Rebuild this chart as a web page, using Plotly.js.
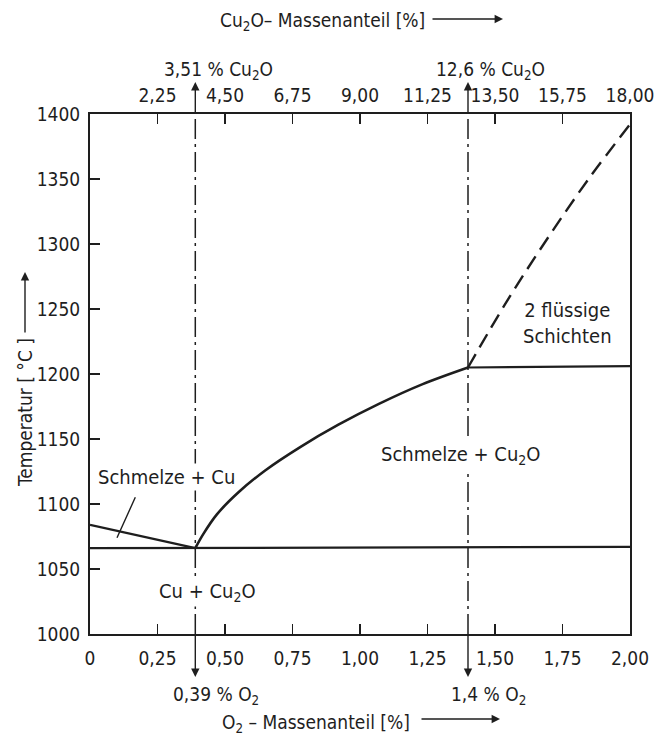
<!DOCTYPE html>
<html>
<head>
<meta charset="utf-8">
<script src="https://cdn.plot.ly/plotly-3.0.1.min.js"></script>
<style>
  html, body { margin: 0; padding: 0; background: #ffffff; }
  #chart { width: 654px; height: 738px; }
  text { font-stretch: condensed !important; }
</style>
</head>
<body>
<div id="chart"></div>
<script>
// ---- Data ----
const o2Ticks = [0, 0.25, 0.5, 0.75, 1.0, 1.25, 1.5, 1.75, 2.0];
const o2Labels = ["0", "0,25", "0,50", "0,75", "1,00", "1,25", "1,50", "1,75", "2,00"];
const cu2oTicks = [2.25, 4.5, 6.75, 9.0, 11.25, 13.5, 15.75, 18.0];
const cu2oLabels = ["2,25", "4,50", "6,75", "9,00", "11,25", "13,50", "15,75", "18,00"];
const tempTicks = [1000, 1050, 1100, 1150, 1200, 1250, 1300, 1350, 1400];
const tempLabels = ["1000", "1050", "1100", "1150", "1200", "1250", "1300", "1350", "1400"];

const eutecticO2 = 0.39;      // % O2  (3,51 % Cu2O)
const monotecticO2 = 1.4;     // % O2  (12,6 % Cu2O)

const liquidusCuX = [0, 0.39];
const liquidusCuY = [1084, 1066];

const eutecticX = [0, 2.0];
const eutecticY = [1066, 1067];

const liquidusCu2OX = [0.39, 0.42, 0.47, 0.55, 0.65, 0.78, 0.92, 1.07, 1.23, 1.40];
const liquidusCu2OY = [1066, 1077, 1092, 1109, 1126, 1144, 1161, 1177, 1192, 1205];

const monotecticX = [1.4, 2.0];
const monotecticY = [1205, 1206];

const miscibilityX = [1.4, 1.55, 1.70, 1.85, 2.0];
const miscibilityY = [1205, 1258, 1306, 1351, 1392];

const tempRange = [1000, 1400];

// ---- Styling ----
const FONT = "DejaVu Sans Condensed, DejaVu Sans, sans-serif";
const INK = "#1e1e1e";
const lineStyle = (w) => ({ color: INK, width: w });

const traces = [
  { x: liquidusCuX, y: liquidusCuY, mode: "lines", line: lineStyle(2.4), hoverinfo: "skip" },
  { x: eutecticX, y: eutecticY, mode: "lines", line: lineStyle(2.2), hoverinfo: "skip" },
  { x: liquidusCu2OX, y: liquidusCu2OY, mode: "lines", line: Object.assign(lineStyle(2.6), { shape: "spline", smoothing: 1.0 }), hoverinfo: "skip" },
  { x: monotecticX, y: monotecticY, mode: "lines", line: lineStyle(2.2), hoverinfo: "skip" },
  { x: miscibilityX, y: miscibilityY, mode: "lines", line: Object.assign(lineStyle(2.4), { dash: "15px,8px", shape: "spline", smoothing: 1.0 }), hoverinfo: "skip" },
  { x: [eutecticO2, eutecticO2], y: tempRange, mode: "lines", line: { color: INK, width: 1.5, dash: "20px,5px,3px,5px" }, hoverinfo: "skip" },
  { x: [monotecticO2, monotecticO2], y: tempRange, mode: "lines", line: { color: INK, width: 1.5, dash: "20px,5px,3px,5px" }, hoverinfo: "skip" },
  { x: cu2oTicks, y: cu2oTicks.map(() => null), xaxis: "x2", yaxis: "y", mode: "markers", marker: { opacity: 0 }, hoverinfo: "skip" }
];

// pixel helpers for paper coordinates (plot area 90..630 x 114..634)
const L = 90, R = 630, T = 114, B = 634;
const px = (p) => (p - L) / (R - L);
const py = (p) => (B - p) / (B - T);

const FS = 19;       // tick labels and axis texts
const FS_REG = 20;   // phase region labels
const txtFont = (s) => ({ family: FONT, size: s, color: INK });
const label = (o) => Object.assign({ showarrow: false, xanchor: "center", yanchor: "middle", font: txtFont(FS) }, o);
const region = (o) => label(Object.assign({ font: txtFont(FS_REG) }, o));
const arrow = (o) => Object.assign({ text: "", showarrow: true, arrowhead: 2, arrowsize: 1.2, arrowwidth: 1.4, arrowcolor: INK }, o);

const annotations = [
  // axis titles
  label({ xref: "paper", yref: "paper", x: px(322), y: py(22), text: "Cu<sub>2</sub>O– Massenanteil [%]" }),
  arrow({ xref: "paper", yref: "paper", x: px(503), y: py(19), ax: -72, ay: 0 }),
  label({ xref: "paper", yref: "paper", x: px(316), y: py(723), text: "O<sub>2</sub> – Massenanteil [%]" }),
  arrow({ xref: "paper", yref: "paper", x: px(500), y: py(719), ax: -80, ay: 0 }),
  label({ xref: "paper", yref: "paper", x: px(25), y: py(413), text: "Temperatur [ °C ]", textangle: -90 }),
  arrow({ xref: "paper", yref: "paper", x: px(25), y: py(272), ax: 0, ay: 62 }),

  // composition markers
  arrow({ xref: "x", yref: "paper", x: eutecticO2, y: py(82), ax: 0, ay: 32 }),
  arrow({ xref: "x", yref: "paper", x: monotecticO2, y: py(82), ax: 0, ay: 32 }),
  arrow({ xref: "x", yref: "paper", x: eutecticO2, y: py(677), ax: 0, ay: -43 }),
  arrow({ xref: "x", yref: "paper", x: monotecticO2, y: py(677), ax: 0, ay: -43 }),
  label({ xref: "paper", yref: "paper", x: px(218), y: py(70), text: "3,51 % Cu<sub>2</sub>O" }),
  label({ xref: "paper", yref: "paper", x: px(490), y: py(70), text: "12,6 % Cu<sub>2</sub>O" }),
  label({ xref: "paper", yref: "paper", x: px(216), y: py(695), text: "0,39 % O<sub>2</sub>" }),
  label({ xref: "paper", yref: "paper", x: px(488), y: py(695), text: "1,4 % O<sub>2</sub>" }),

  // phase region labels
  region({ xref: "x", yref: "y", x: 0.285, y: 1121, text: "Schmelze + Cu", bgcolor: "#ffffff" }),
  arrow({ xref: "x", yref: "y", x: 0.10, y: 1074, ax: 19, ay: -42, arrowhead: 0 }),
  region({ xref: "x", yref: "y", x: 0.437, y: 1032, text: "Cu + Cu<sub>2</sub>O", bgcolor: "#ffffff" }),
  region({ xref: "x", yref: "y", x: 1.375, y: 1138, text: "Schmelze + Cu<sub>2</sub>O", bgcolor: "#ffffff" }),
  region({ xref: "x", yref: "y", x: 1.77, y: 1239, text: "2 flüssige<br>Schichten", align: "center" })
];

const axisCommon = {
  ticks: "inside", ticklen: 10, tickwidth: 1.6, tickcolor: INK,
  showline: true, linewidth: 2, linecolor: INK,
  showgrid: false, zeroline: false,
  tickfont: { family: FONT, size: FS, color: INK },
  ticklabeloverflow: "allow",
  fixedrange: true
};

const layout = {
  width: 654,
  height: 738,
  margin: { l: L, r: 654 - R, t: T, b: 738 - B },
  paper_bgcolor: "#ffffff",
  plot_bgcolor: "#ffffff",
  showlegend: false,
  font: { family: FONT, size: FS, color: INK },
  xaxis: Object.assign({}, axisCommon, {
    range: [0, 2], tickvals: o2Ticks, ticktext: o2Labels, ticklabelstandoff: 6
  }),
  xaxis2: Object.assign({}, axisCommon, {
    overlaying: "x", side: "top", anchor: "y",
    range: [0, 18], tickvals: cu2oTicks, ticktext: cu2oLabels, ticklabelstandoff: 2
  }),
  yaxis: Object.assign({}, axisCommon, {
    range: tempRange, tickvals: tempTicks, ticktext: tempLabels, mirror: true, ticklabelstandoff: 4
  }),
  annotations: annotations
};

Plotly.newPlot("chart", traces, layout, { staticPlot: true, displayModeBar: false });
</script>
</body>
</html>
